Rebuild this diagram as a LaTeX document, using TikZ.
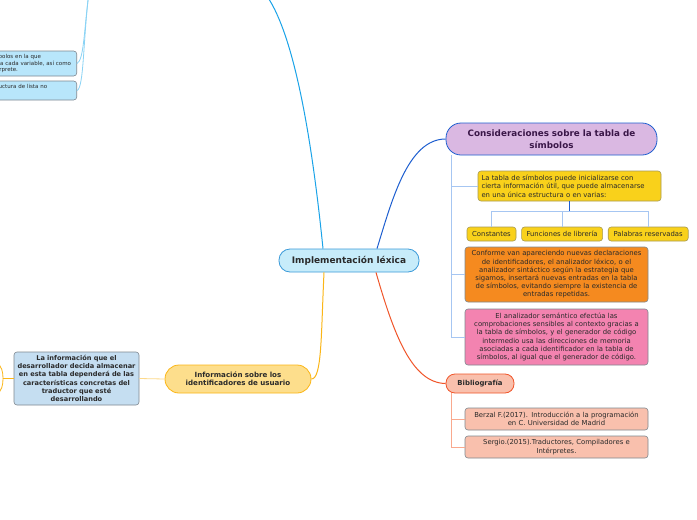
\documentclass[tikz,border=0pt]{standalone}
\usepackage{fontspec}
\setmainfont{DejaVu Sans}
\usetikzlibrary{positioning}

\definecolor{hubfill}{HTML}{C7ECFA}
\definecolor{hubline}{HTML}{3B9AD9}
\definecolor{consfill}{HTML}{DAB8E2}
\definecolor{consline}{HTML}{1E5FD0}
\definecolor{consink}{HTML}{3A1748}
\definecolor{conspale}{HTML}{A6C6F2}
\definecolor{yellowfill}{HTML}{F9D11B}
\definecolor{yellowline}{HTML}{A89A52}
\definecolor{orangefill}{HTML}{F58A1F}
\definecolor{pinkfill}{HTML}{F383B0}
\definecolor{reffill}{HTML}{F9C0AD}
\definecolor{bibline}{HTML}{F0552A}
\definecolor{bibpale}{HTML}{F9A98E}
\definecolor{infofill}{HTML}{FDDE8C}
\definecolor{infoline}{HTML}{FBB617}
\definecolor{infopale}{HTML}{FDD98A}
\definecolor{lainfofill}{HTML}{C5DEF1}
\definecolor{leaffill}{HTML}{B8E6FB}
\definecolor{cyanline}{HTML}{1AA3E8}
\definecolor{cyanpale}{HTML}{8AD3F5}
\definecolor{boxgray}{HTML}{7F8890}
\definecolor{ink}{HTML}{2A2A2A}

\begin{document}
\begin{tikzpicture}[
  x=1pt, y=-1pt,
  hub/.style={draw=hubline, fill=hubfill, line width=0.8pt, rounded corners=11pt,
              minimum width=140pt, minimum height=23pt, inner sep=0pt, text=ink,
              font=\fontsize{9}{10}\selectfont\bfseries},
  topic/.style={line width=0.8pt, align=center, inner sep=0pt, text=ink},
  note/.style={draw=boxgray, line width=0.6pt, rounded corners=3pt, align=center,
               inner sep=0pt, text=ink, font=\fontsize{6.85}{8.6}\selectfont},
  chip/.style={note, fill=yellowfill, draw=yellowline, minimum height=14pt},
  link/.style={line width=1pt},
  twig/.style={line width=0.8pt}
]
\clip (0,0) rectangle (697,520);
\fill[white] (0,0) rectangle (697,520);

% centre
\node[hub] (impl) at (349,260.5) {Implementación léxica};

% right side: tabla de simbolos
\node[topic, draw=consline, fill=consfill, text=consink, rounded corners=15pt,
      minimum width=211pt, minimum height=32pt, text width=200pt,
      font=\fontsize{8.8}{11.5}\selectfont\bfseries] (cons) at (551.5,139)
  {Consideraciones sobre la tabla de\\símbolos};
\node[note, fill=yellowfill, draw=yellowline, align=left, text width=176pt,
      minimum width=183pt, minimum height=30pt] (seed) at (569.5,186)
  {La tabla de símbolos puede inicializarse con\\cierta información útil, que puede almacenarse\\en una única estructura o en varias:};
\node[chip, minimum width=49pt] (const) at (491.5,234) {Constantes};
\node[chip, minimum width=81pt, right=5pt of const] (libfn) {Funciones de librería};
\node[chip, minimum width=80pt, right=5pt of libfn] (words) {Palabras reservadas};
\node[note, fill=orangefill, text width=181pt, minimum width=183pt, minimum height=55pt,
      font=\fontsize{6.85}{8.2}\selectfont] (lex) at (556.5,274.5)
  {Conforme van apareciendo nuevas declaraciones\\de identificadores, el analizador léxico, o el\\analizador sintáctico según la estrategia que\\sigamos, insertará nuevas entradas en la tabla\\de símbolos, evitando siempre la existencia de\\entradas repetidas.};
\node[note, fill=pinkfill, text width=181pt, minimum width=183pt, minimum height=56pt,
      font=\fontsize{6.85}{8.2}\selectfont] (sem) at (556.5,337)
  {El analizador semántico efectúa las\\comprobaciones sensibles al contexto gracias a\\la tabla de símbolos, y el generador de código\\intermedio usa las direcciones de memoria\\asociadas a cada identificador en la tabla de\\símbolos, al igual que el generador de código.};

% bibliografia
\node[topic, draw=bibline, fill=reffill, rounded corners=9pt, minimum width=68pt,
      minimum height=19pt, font=\fontsize{6.9}{8}\selectfont\bfseries] (biblio) at (480,383.5)
  {Bibliografía};
\node[note, fill=reffill, text width=181pt, minimum width=183pt, minimum height=22pt]
  (berzal) at (556.5,419)
  {Berzal F.(2017). Introducción a la programación\\en C. Universidad de Madrid};
\node[note, fill=reffill, text width=181pt, minimum width=183pt, minimum height=22pt]
  (sergio) at (556.5,447)
  {Sergio.(2015).Traductores, Compiladores e\\Intérpretes.};

% left side
\node[topic, draw=infoline, fill=infofill, rounded corners=14pt, minimum width=146pt,
      minimum height=28pt, text width=140pt, font=\fontsize{7.1}{8.4}\selectfont\bfseries]
  (info) at (238,379) {Información sobre los\\identificadores de usuario};
\node[note, fill=lainfofill, text width=124pt, minimum width=125pt, minimum height=53pt,
      font=\fontsize{6.6}{8.2}\selectfont\bfseries] (lainfo) at (76.5,378.5)
  {La información que el\\desarrollador decida almacenar\\en esta tabla dependerá de las\\características concretas del\\traductor que esté\\desarrollando};
\node[note, fill=leaffill, align=left, text width=100pt, inner xsep=2pt, minimum height=25pt,
      font=\fontsize{5.5}{6.8}\selectfont, anchor=east] (leafa) at (77,63.5)
  {\leftskip=24pt bolos en la que\\la cada variable, así como\\n un intérprete.};
\node[note, fill=leaffill, align=left, text width=100pt, inner xsep=2pt, minimum height=19pt,
      font=\fontsize{5.5}{6.8}\selectfont, anchor=east] (leafb) at (77,90.5)
  {\leftskip=24pt uctura de lista no\\\strut};

% connectors
\coordinate (up) at (264,-8);
\coordinate (upleaf) at (89,-8);
\coordinate (forkup) at (-4,362);
\coordinate (forkdown) at (-4,395);
\coordinate (fork) at (3,378.5);
\draw[link, draw=consline] ([xshift=28pt]impl.north) .. controls (392,200) and (408,139) .. (cons.west);
\draw[link, draw=cyanline] ([xshift=-26pt]impl.north) .. controls (312,140) and (294,30) .. (up);
\draw[link, draw=infoline] ([xshift=-25pt]impl.south) .. controls (321,335) and (322,379) .. (info.east);
\draw[link, draw=bibline] ([xshift=27pt]impl.south) .. controls (394,335) and (412,383) .. (biblio.west);

\draw[twig, draw=conspale] ([xshift=-100pt]cons.south) |- (seed.west);
\draw[twig, draw=conspale] ([xshift=-100pt]cons.south) |- (lex.west);
\draw[twig, draw=conspale] ([xshift=-100pt]cons.south) |- (sem.west);
\path (seed.south) ++(0,10) coordinate (split);
\draw[twig, draw=consline] (seed.south) -- (split);
\draw[twig, draw=conspale] (split) -| (const.north);
\draw[twig, draw=conspale] (split) -| (libfn.north);
\draw[twig, draw=conspale] (split) -| (words.north);

\draw[twig, draw=bibpale] ([xshift=-29pt]biblio.south) |- (berzal.west);
\draw[twig, draw=bibpale] ([xshift=-29pt]biblio.south) |- (sergio.west);

\draw[twig, draw=infopale] (info.west) -- (lainfo.east);
\draw[twig, draw=infoline] (lainfo.west) -- (fork);
\draw[twig, draw=infoline] (forkup) .. controls (2,366) and (3,372) .. (fork);
\draw[twig, draw=infoline] (forkdown) .. controls (2,391) and (3,385) .. (fork);

\draw[twig, draw=cyanpale] (upleaf) .. controls (84,30) and (84,60) .. (leafa.east);
\draw[twig, draw=cyanpale] (upleaf) .. controls (83,40) and (84,88) .. (leafb.east);
\end{tikzpicture}
\end{document}
